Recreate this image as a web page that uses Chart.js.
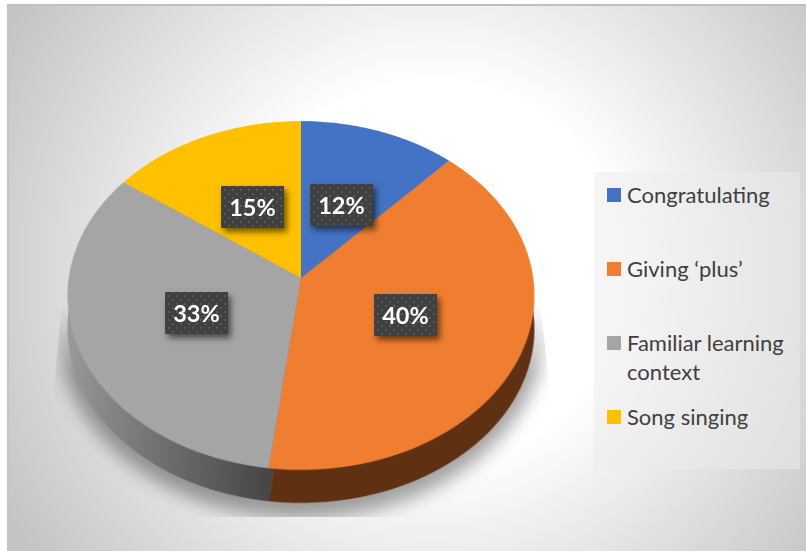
<!DOCTYPE html>
<html>
<head>
<meta charset="utf-8">
<title>Pie chart</title>
<script src="https://cdn.jsdelivr.net/npm/chart.js@4"></script>
<style>
    html, body { margin: 0; padding: 0; background: #fff; }
    #stage { position: relative; width: 806px; height: 551px; overflow: hidden; }
    #panel {
        position: absolute; left: 7px; top: 4px; right: 0; bottom: 0;
        border-top: 2px solid #bfbfbf; border-left: 2px solid #c4c4c4;
        background: radial-gradient(circle at 423px 266px, #fff 0, #fff 190px, #c4c4c4 490px);
    }
    canvas { position: absolute; }
    #shadowClip {
        position: absolute; left: 0; top: 0; width: 806px; height: 551px;
        clip-path: polygon(62px 300px, 540px 300px, 551px 400px, 551px 517px, 51px 517px, 53px 400px);
        -webkit-mask-image: linear-gradient(to bottom, transparent 305px, #000 375px);
        mask-image: linear-gradient(to bottom, transparent 305px, #000 375px);
    }
    #shadow {
        position: absolute; left: 58px; top: 140px; width: 486px; height: 378px;
        border-radius: 50%; background: rgba(0, 0, 0, 0.36); filter: blur(9px);
    }
    .dataLabel {
        position: absolute; width: 63px; height: 42px; text-align: center;
        font: bold 23.5px/42px Lato, sans-serif; color: #fff;
        background-color: #404040;
        background-image: radial-gradient(circle, #585858 1px, transparent 1.3px),
                          radial-gradient(circle, #585858 1px, transparent 1.3px);
        background-size: 8px 8px;
        background-position: 0 0, 4px 4px;
        box-shadow: 3px 4px 6px rgba(0, 0, 0, 0.55);
    }
    #legend {
        position: absolute; left: 594px; top: 172px; width: 206px; height: 297px;
        background: rgba(235, 235, 235, 0.5);
        font: 22px/29px Lato, sans-serif; color: #404040;
    }
    .legendItem { position: absolute; left: 33px; width: 172px; }
    .legendItem i { position: absolute; left: -20px; top: 8px; width: 14px; height: 14px; }
</style>
</head>
<body>
<div id="stage">
    <div id="panel"></div>
    <div id="shadowClip"><div id="shadow"></div></div>
    <canvas id="pieWall" width="500" height="500" style="left:51px;top:61px"></canvas>
    <canvas id="pieTop" width="500" height="500" style="left:51px;top:28px"></canvas>
    <div id="legend"></div>
</div>
<script>
const categories = ["Congratulating", "Giving ‘plus’", "Familiar learning context", "Song singing"];
const percentages = [12, 40, 33, 15];
const topColors = ["#4472c4", "#f07e31", "#a5a5a5", "#ffc000"];
const wallColors = ["#223962", "#5f3112", "#525252", "#806000"];

// tilt of the pie disc, shared by both canvases and the label projection
const tiltDeg = 42;
const perspectivePx = 1549;
const pieRadius = 232.3;

function makePie(id, colors) {
    const canvas = document.getElementById(id);
    canvas.style.transformOrigin = "50% 50%";
    canvas.style.transform = `perspective(${perspectivePx}px) rotateX(${tiltDeg}deg)`;

    return new Chart(canvas, {
        type: "pie",
        data: {
            labels: categories,
            datasets: [{ data: percentages, backgroundColor: colors, borderWidth: 0 }],
        },
        options: {
            responsive: false,
            animation: false,
            devicePixelRatio: 2,
            radius: pieRadius,
            events: [],
            plugins: { legend: { display: false }, tooltip: { enabled: false } },
        },
    });
}

// the side wall fades from mid grey on the left to almost charcoal at the front
const wallCtx = document.getElementById("pieWall").getContext("2d");
const greyWall = wallCtx.createLinearGradient(20, 0, 226, 0);
greyWall.addColorStop(0, "#9a9a9a");
greyWall.addColorStop(1, "#444444");
wallColors[2] = greyWall;

makePie("pieWall", wallColors);
const pieChart = makePie("pieTop", topColors);

// same matrix as the css transform, used to place the flat labels on the tilted slices
function project(dx, dy) {
    const a = tiltDeg * Math.PI / 180;
    const scale = perspectivePx / (perspectivePx - dy * Math.sin(a));
    return { x: dx * scale, y: dy * Math.cos(a) * scale };
}

const stage = document.getElementById("stage");
const top0 = document.getElementById("pieTop");
const centerX = top0.offsetLeft + 250;
const centerY = top0.offsetTop + 250;

pieChart.getDatasetMeta(0).data.forEach((arc, i) => {
    const mid = (arc.startAngle + arc.endAngle) / 2;
    const r = arc.outerRadius * 0.485;
    const p = project(Math.cos(mid) * r, Math.sin(mid) * r);

    const label = document.createElement("div");
    label.className = "dataLabel";
    label.textContent = percentages[i] + "%";
    label.style.left = Math.round(centerX + p.x - 31) + "px";
    label.style.top = Math.round(centerY + p.y - 20) + "px";
    stage.appendChild(label);
});

// legend rows sit on an even 74px pitch
const legend = document.getElementById("legend");
categories.forEach((name, i) => {
    const item = document.createElement("div");
    item.className = "legendItem";
    item.style.top = (8 + i * 74) + "px";
    item.innerHTML = `<i style="background:${topColors[i]}"></i>${name}`;
    legend.appendChild(item);
});
</script>
</body>
</html>
